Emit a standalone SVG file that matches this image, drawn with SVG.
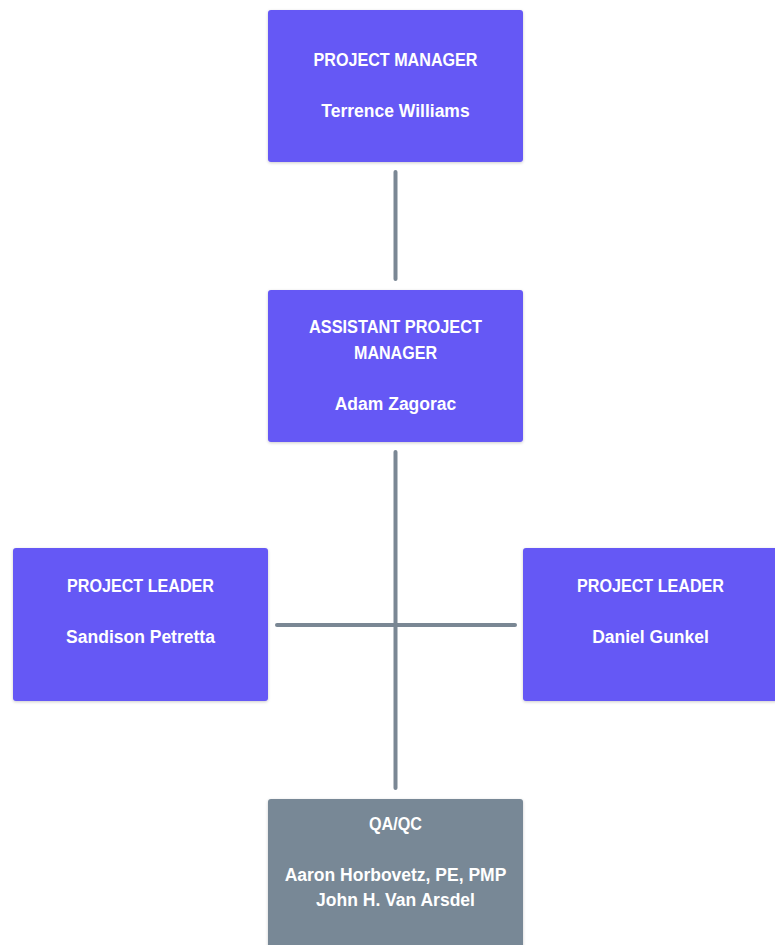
<svg xmlns="http://www.w3.org/2000/svg" width="775" height="945" viewBox="0 0 775 945">
<style>
.box{fill:#6558f5;}
.gray{fill:#788896;}
.t{font-family:"Liberation Sans",Arial,sans-serif;font-size:17.5px;font-weight:bold;fill:#ffffff;text-anchor:middle;}
.c{stroke:#7a8794;stroke-width:4;stroke-linecap:round;fill:none;}
</style>
<defs>
<filter id="sh" x="-10%" y="-10%" width="120%" height="130%">
<feDropShadow dx="0" dy="1" stdDeviation="1.5" flood-color="#000" flood-opacity="0.2"/>
</filter>
</defs>
<rect width="775" height="945" fill="#ffffff"/>
<g id="connectors">
<line class="c" x1="395.5" y1="172" x2="395.5" y2="279"/>
<line class="c" x1="395.5" y1="452" x2="395.5" y2="788"/>
<line class="c" x1="277" y1="625" x2="515" y2="625"/>
</g>
<g id="pm">
<rect class="box" x="268" y="10" width="255" height="152" rx="3" filter="url(#sh)"/>
<text class="t" x="395.5" y="66" textLength="164" lengthAdjust="spacingAndGlyphs">PROJECT MANAGER</text>
<text class="t" x="395.5" y="117">Terrence Williams</text>
</g>
<g id="apm">
<rect class="box" x="268" y="290" width="255" height="152" rx="3" filter="url(#sh)"/>
<text class="t" x="395.5" y="333" textLength="173" lengthAdjust="spacingAndGlyphs">ASSISTANT PROJECT</text>
<text class="t" x="395.5" y="359" textLength="83" lengthAdjust="spacingAndGlyphs">MANAGER</text>
<text class="t" x="395.5" y="410">Adam Zagorac</text>
</g>
<g id="pl-left">
<rect class="box" x="13" y="548" width="255" height="153" rx="3" filter="url(#sh)"/>
<text class="t" x="140.5" y="592" textLength="147" lengthAdjust="spacingAndGlyphs">PROJECT LEADER</text>
<text class="t" x="140.5" y="643">Sandison Petretta</text>
</g>
<g id="pl-right">
<rect class="box" x="523" y="548" width="255" height="153" rx="3" filter="url(#sh)"/>
<text class="t" x="650.5" y="592" textLength="147" lengthAdjust="spacingAndGlyphs">PROJECT LEADER</text>
<text class="t" x="650.5" y="643">Daniel Gunkel</text>
</g>
<g id="qaqc">
<rect class="gray" x="268" y="799" width="255" height="160" rx="3" filter="url(#sh)"/>
<text class="t" x="395.5" y="830" textLength="53" lengthAdjust="spacingAndGlyphs">QA/QC</text>
<text class="t" x="395.5" y="881">Aaron Horbovetz, PE, PMP</text>
<text class="t" x="395.5" y="906">John H. Van Arsdel</text>
</g>
</svg>
